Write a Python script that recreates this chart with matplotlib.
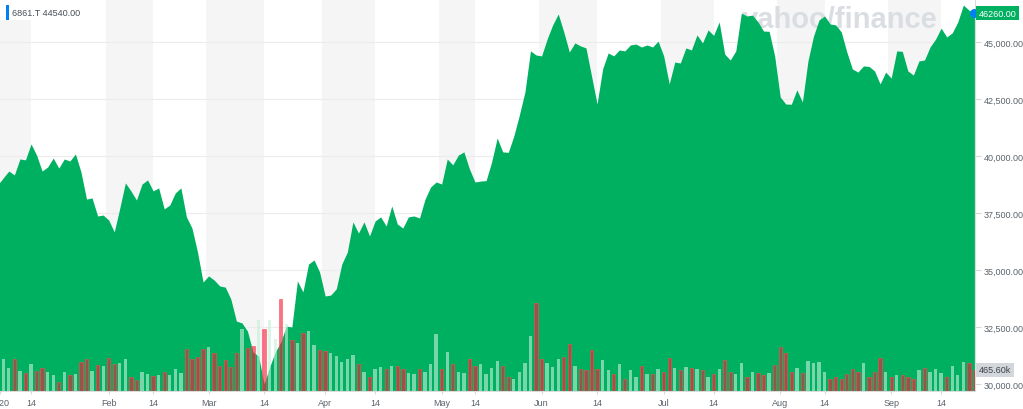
import matplotlib.pyplot as plt
import matplotlib.transforms as mtransforms
from matplotlib.patches import Rectangle
import numpy as np
import pandas as pd

plt.rcParams['font.family'] = ['Liberation Sans', 'DejaVu Sans']

# Tokyo trading days shown on the chart
start_date = '2019-12-30'
end_date = '2020-09-24'
jp_holidays = ['2019-12-31', '2020-01-01', '2020-01-02', '2020-01-03', '2020-01-13',
               '2020-02-11', '2020-02-24', '2020-03-20', '2020-04-29', '2020-05-04',
               '2020-05-05', '2020-05-06', '2020-07-23', '2020-07-24', '2020-08-10',
               '2020-09-21', '2020-09-22']

# daily close (JPY)
close = [38730,
         39040, 39340, 39170, 39870, 39830, 40530, 40040, 39340, 39520, 39910,
         39470, 39870, 39780, 40090, 39300, 38110, 38160, 37370, 37410, 37190,
         36670, 37720, 38820, 38470, 38070, 38770, 38950, 38470, 38600, 37680,
         37850, 38380, 38600, 37330, 36840, 35790, 34470, 34740, 34560, 34300,
         34250, 33730, 32760, 32680, 32320, 31400, 31230, 30000, 30750, 31400,
         31840, 32540, 32500, 34520, 34040, 35260, 35440, 34910, 33860, 33900,
         34170, 35260, 35790, 37110, 36620, 37110, 36490, 37150, 37330, 36930,
         37810, 37020, 36840, 37330, 37370, 37280, 38110, 38640, 38860, 38770,
         39870, 39610, 40040, 40180, 39430, 38860, 38900, 38920, 39740, 40790,
         40180, 40160, 40880, 41800, 42810, 44610, 44430, 44390, 45130, 45750,
         46230, 45440, 44560, 44960, 44830, 44740, 43510, 42280, 43820, 44520,
         44390, 44650, 44610, 44870, 44910, 44780, 44870, 44780, 45040, 44390,
         43160, 44120, 44080, 44740, 44650, 45310, 44960, 45530, 45290, 45880,
         44470, 44210, 44610, 46270, 46140, 46180, 45880, 45480, 45470, 44390,
         42590, 42280, 42270, 42900, 42370, 44170, 45260, 45970, 46140, 45790,
         45750, 45440, 44560, 43820, 43680, 43950, 43930, 43730, 43160, 43680,
         43420, 44610, 44590, 43730, 43550, 44170, 44210, 44780, 45130, 45610,
         45220, 45400, 45880, 46620, 46400, 46260]

# daily volume (thousand shares)
volume_k = [520,
            717, 517, 717, 444, 406, 593, 444, 517, 428, 349,
            206, 428, 349, 371, 644, 704, 444, 571, 555, 739,
            593, 628, 704, 311, 244, 428, 371, 333, 349, 428,
            349, 495, 406, 926, 717, 761, 939, 983, 850, 544,
            677, 522, 839, 1376, 955, 1006, 1576, 1376, 1583, 1154,
            2042, 1487, 1139, 1066, 1288, 1339, 1021, 910, 877, 833,
            770, 633, 710, 799, 606, 428, 311, 495, 539, 482,
            555, 555, 482, 406, 371, 495, 422, 593, 1265, 495,
            866, 593, 428, 406, 704, 555, 593, 371, 517, 666,
            555, 311, 273, 428, 615, 1221, 1954, 704, 615, 539,
            704, 761, 1050, 555, 482, 460, 910, 495, 688, 460,
            384, 593, 273, 460, 317, 555, 384, 384, 482, 422,
            726, 517, 460, 539, 517, 495, 460, 317, 371, 495,
            682, 428, 384, 628, 317, 428, 393, 349, 393, 571,
            983, 837, 428, 517, 406, 666, 615, 650, 428, 273,
            317, 260, 371, 495, 422, 615, 311, 428, 726, 428,
            317, 349, 349, 311, 260, 466, 517, 422, 482, 406,
            317, 555, 349, 650, 615, 465.6]

# volume bar colour per day: g = up, r = down
vol_dir = ("g"
           "ggrgrgrrgg" "rgrgrrgrgr" "rggrrggrgr" "gggrrrrgrr" "rrrgrrgrgg"
           "rgrgrggrrg" "ggggrgrggr" "grrggrgggr" "grggrrgggg" "rrggggrrgg"
           "grrgrrrrgg" "rgrggrgrgr" "rgrgrgrgrg" "rrggrgrrgr" "rrrgrggggr"
           "rrrrrgrrrg" "rgrrrgrggg" "rgggrr")

ticker = '6861.T'
legend_value = 44540.00
price_ticks = [30000, 32500, 35000, 37500, 40000, 42500, 45000]

# trading-day axis
days = pd.bdate_range(start_date, end_date)
days = days[~days.isin(pd.to_datetime(jp_holidays))]
pos = np.arange(len(days))

green = '#00b061'
ymin, ymax = 29693, 46886

fig = plt.figure(figsize=(10.23, 4.10), dpi=100)
ax = fig.add_axes([0, 18 / 410, 975 / 1023, 392 / 410])
ax.set_xlim(0.41, pos[-1] + 0.1)
ax.set_ylim(ymin, ymax)

# month bands (1st to 14th) and tick positions
tick_pos, tick_lab = [], []
for (yr, mo), grp in pd.Series(pos, index=days).groupby([days.year, days.month]):
    if yr < 2020:
        continue
    first = grp.iloc[0]
    mid = grp[grp.index.day >= 14].iloc[0]
    ax.axvspan(first - 0.5, mid, color='#f5f5f5', lw=0, zorder=0)
    if mo == 1:
        tick_pos.append(0.41)
        tick_lab.append('2020')
    else:
        tick_pos.append(first)
        tick_lab.append(grp.index[0].strftime('%b'))
    tick_pos.append(mid)
    tick_lab.append('14')

for t in price_ticks:
    ax.axhline(t, color='#ececec', lw=0.8, zorder=1)

ax.text(0.8615, 0.9286, 'yahoo/finance', transform=ax.transAxes, ha='center',
        va='baseline', fontsize=21, fontweight='bold', color='#dadde1', zorder=1.5)

ax.fill_between(pos, close, ymin, color=green, lw=0, zorder=2)

# volume bars on a twin axis
vax = ax.twinx()
vax.set_ylim(0, 8691)
up_c = (197 / 255, 240 / 255, 217 / 255, 0.61)
dn_c = (246 / 255, 27 / 255, 61 / 255, 0.61)
cols = [up_c if d == 'g' else dn_c for d in vol_dir]
edges = [(0, 0, 0, 0) if d == 'g' else (1, 0.3, 0.3, 0.8) for d in vol_dir]
vax.bar(pos, volume_k, width=0.6, color=cols, edgecolor=edges, linewidth=0.5)
vax.set_yticks([])
vax.tick_params(right=False)
for s in vax.spines.values():
    s.set_visible(False)

ax.yaxis.tick_right()
ax.set_yticks(price_ticks)
ax.set_yticklabels([f'{t:,.2f}' for t in price_ticks])
ax.set_xticks(tick_pos)
ax.set_xticklabels(tick_lab)
ax.tick_params(axis='y', colors='#d8d8d8', labelcolor='#5b636a', labelsize=6.5, length=4, pad=2)
ax.tick_params(axis='x', colors='#d8d8d8', labelcolor='#5b636a', labelsize=6.5, length=2, pad=3)
ax.spines['top'].set_visible(False)
ax.spines['left'].set_visible(False)
ax.spines['right'].set_color('#dcdcdc')
ax.spines['bottom'].set_color('#dcdcdc')
ax.spines['right'].set_linewidth(0.8)
ax.spines['bottom'].set_linewidth(0.8)

# last price marker and labels
ax.plot(pos[-1], close[-1], 'o', color='#0081f2', ms=5.5, zorder=6, clip_on=False)
tr = mtransforms.blended_transform_factory(ax.transAxes, ax.transData)
ax.text(1.004, close[-1], f'{close[-1]:.2f}', transform=tr, ha='left', va='center',
        fontsize=6.5, color='white', zorder=7,
        bbox=dict(boxstyle='square,pad=0.3', fc=green, ec='none'))
vtr = mtransforms.blended_transform_factory(vax.transAxes, vax.transData)
vax.text(1.004, volume_k[-1], f'{volume_k[-1]:.2f}k', transform=vtr, ha='left', va='center',
         fontsize=6.5, color='#3c4248',
         bbox=dict(boxstyle='square,pad=0.3', fc='#d3d6da', ec='none'))

# top-left legend
fig.add_artist(Rectangle((0, 1 - 21 / 410), 72 / 1023, 21 / 410, transform=fig.transFigure,
                         fc='white', ec='none', zorder=3))
fig.add_artist(Rectangle((6 / 1023, 1 - 21 / 410), 2.5 / 1023, 15 / 410, transform=fig.transFigure,
                         fc='#0081f2', ec='none', zorder=4))
fig.text(12 / 1023, 1 - 14 / 410, f'{ticker} {legend_value:.2f}', fontsize=6.5,
         color='#464e56', va='center', ha='left', zorder=4)

fig.savefig('out.png', dpi=100)
